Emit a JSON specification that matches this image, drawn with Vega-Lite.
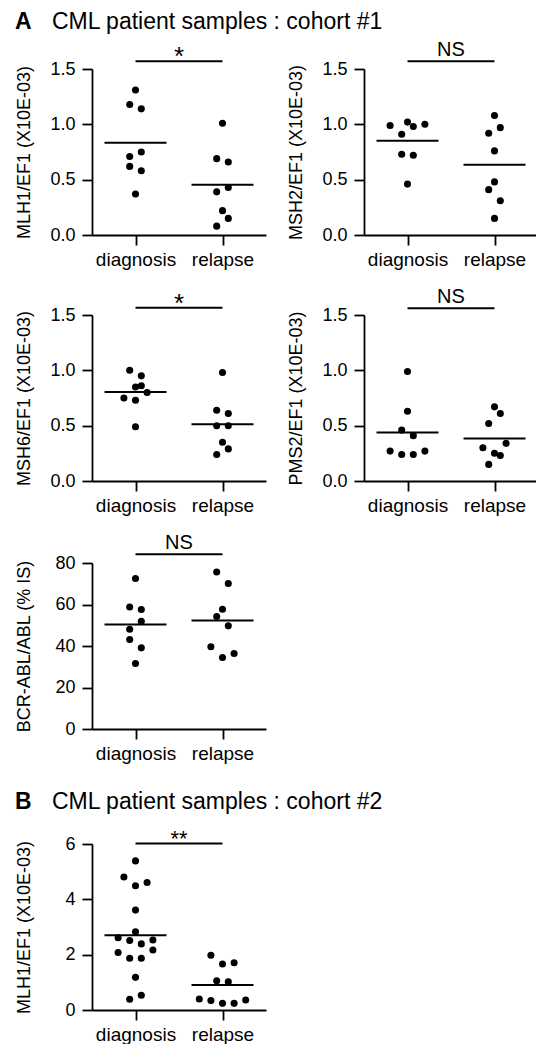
{
  "$schema": "https://vega.github.io/schema/vega-lite/v6.json",
  "padding": {"left": 15, "top": 11, "right": 0, "bottom": 0},
  "spacing": 28,
  "config": {
    "font": "Liberation Sans",
    "view": {"stroke": null},
    "axis": {"domainColor": "black", "domainWidth": 1.8, "tickColor": "black", "tickWidth": 1.8, "tickSize": 10, "labelColor": "black", "titleColor": "black", "labelFontSize": 18, "titleFontSize": 18, "titleFontWeight": "normal", "grid": false},
    "axisX": {"labelPadding": 5, "labelAngle": 0, "title": null, "labelFontSize": 19},
    "axisY": {"labelPadding": 7, "titlePadding": 15, "minExtent": 44, "maxExtent": 44},
    "title": {"anchor": "start", "fontSize": 23, "fontWeight": "bold", "color": "black", "offset": 6}
  },
  "datasets": {
    "mlh1": [
      {"group": "diagnosis", "jitter": 0, "value": 1.31},
      {"group": "diagnosis", "jitter": -1, "value": 1.18},
      {"group": "diagnosis", "jitter": 1, "value": 1.14},
      {"group": "diagnosis", "jitter": -1, "value": 0.71},
      {"group": "diagnosis", "jitter": 1, "value": 0.75},
      {"group": "diagnosis", "jitter": -1, "value": 0.62},
      {"group": "diagnosis", "jitter": 1, "value": 0.58},
      {"group": "diagnosis", "jitter": 0, "value": 0.37},
      {"group": "relapse", "jitter": 0, "value": 1.01},
      {"group": "relapse", "jitter": -1, "value": 0.69},
      {"group": "relapse", "jitter": 1, "value": 0.66},
      {"group": "relapse", "jitter": -1, "value": 0.39},
      {"group": "relapse", "jitter": 1, "value": 0.43},
      {"group": "relapse", "jitter": 0, "value": 0.22},
      {"group": "relapse", "jitter": 1, "value": 0.15},
      {"group": "relapse", "jitter": -1, "value": 0.08}
    ],
    "msh2": [
      {"group": "diagnosis", "jitter": -3, "value": 0.99},
      {"group": "diagnosis", "jitter": -1, "value": 0.91},
      {"group": "diagnosis", "jitter": 0, "value": 1.02},
      {"group": "diagnosis", "jitter": 1, "value": 0.98},
      {"group": "diagnosis", "jitter": 3, "value": 1.0},
      {"group": "diagnosis", "jitter": -1, "value": 0.73},
      {"group": "diagnosis", "jitter": 1, "value": 0.72},
      {"group": "diagnosis", "jitter": 0, "value": 0.46},
      {"group": "relapse", "jitter": 0, "value": 1.08},
      {"group": "relapse", "jitter": -1, "value": 0.92},
      {"group": "relapse", "jitter": 1, "value": 0.97},
      {"group": "relapse", "jitter": 0, "value": 0.76},
      {"group": "relapse", "jitter": 0, "value": 0.48},
      {"group": "relapse", "jitter": -1, "value": 0.41},
      {"group": "relapse", "jitter": 1, "value": 0.31},
      {"group": "relapse", "jitter": 0, "value": 0.15}
    ],
    "msh6": [
      {"group": "diagnosis", "jitter": -1, "value": 1.0},
      {"group": "diagnosis", "jitter": 1, "value": 0.95},
      {"group": "diagnosis", "jitter": 0, "value": 0.85},
      {"group": "diagnosis", "jitter": 1, "value": 0.86},
      {"group": "diagnosis", "jitter": -2, "value": 0.75},
      {"group": "diagnosis", "jitter": 0, "value": 0.73},
      {"group": "diagnosis", "jitter": 2, "value": 0.8},
      {"group": "diagnosis", "jitter": 0, "value": 0.49},
      {"group": "relapse", "jitter": 0, "value": 0.98},
      {"group": "relapse", "jitter": -1, "value": 0.64},
      {"group": "relapse", "jitter": 1, "value": 0.61},
      {"group": "relapse", "jitter": -1, "value": 0.5},
      {"group": "relapse", "jitter": 1, "value": 0.5},
      {"group": "relapse", "jitter": 0, "value": 0.35},
      {"group": "relapse", "jitter": 1, "value": 0.29},
      {"group": "relapse", "jitter": -1, "value": 0.24}
    ],
    "pms2": [
      {"group": "diagnosis", "jitter": 0, "value": 0.99},
      {"group": "diagnosis", "jitter": 0, "value": 0.63},
      {"group": "diagnosis", "jitter": -1, "value": 0.46},
      {"group": "diagnosis", "jitter": 1, "value": 0.41},
      {"group": "diagnosis", "jitter": -3, "value": 0.27},
      {"group": "diagnosis", "jitter": -1, "value": 0.24},
      {"group": "diagnosis", "jitter": 1, "value": 0.24},
      {"group": "diagnosis", "jitter": 3, "value": 0.27},
      {"group": "relapse", "jitter": 0, "value": 0.67},
      {"group": "relapse", "jitter": 1, "value": 0.61},
      {"group": "relapse", "jitter": -1, "value": 0.52},
      {"group": "relapse", "jitter": -2, "value": 0.3},
      {"group": "relapse", "jitter": 0, "value": 0.25},
      {"group": "relapse", "jitter": 1, "value": 0.23},
      {"group": "relapse", "jitter": 2, "value": 0.34},
      {"group": "relapse", "jitter": -1, "value": 0.15}
    ],
    "bcrabl": [
      {"group": "diagnosis", "jitter": 0, "value": 72.5},
      {"group": "diagnosis", "jitter": -1, "value": 58.8},
      {"group": "diagnosis", "jitter": 1, "value": 57.6},
      {"group": "diagnosis", "jitter": 1, "value": 51.9},
      {"group": "diagnosis", "jitter": -1, "value": 48.1},
      {"group": "diagnosis", "jitter": -1, "value": 43.1},
      {"group": "diagnosis", "jitter": 1, "value": 39.1},
      {"group": "diagnosis", "jitter": 0, "value": 31.6},
      {"group": "relapse", "jitter": -1, "value": 75.7},
      {"group": "relapse", "jitter": 1, "value": 70.1},
      {"group": "relapse", "jitter": 0, "value": 57.7},
      {"group": "relapse", "jitter": -1, "value": 54.2},
      {"group": "relapse", "jitter": 1, "value": 49.7},
      {"group": "relapse", "jitter": -2, "value": 39.6},
      {"group": "relapse", "jitter": 0, "value": 34.5},
      {"group": "relapse", "jitter": 2, "value": 36.4}
    ],
    "mlh1b": [
      {"group": "diagnosis", "jitter": 0, "value": 5.39},
      {"group": "diagnosis", "jitter": -2, "value": 4.81},
      {"group": "diagnosis", "jitter": 0, "value": 4.49},
      {"group": "diagnosis", "jitter": 2, "value": 4.61},
      {"group": "diagnosis", "jitter": 0, "value": 3.61},
      {"group": "diagnosis", "jitter": 0, "value": 2.83},
      {"group": "diagnosis", "jitter": -3, "value": 2.61},
      {"group": "diagnosis", "jitter": -1, "value": 2.51},
      {"group": "diagnosis", "jitter": 1, "value": 2.39},
      {"group": "diagnosis", "jitter": 3, "value": 2.53},
      {"group": "diagnosis", "jitter": -3, "value": 2.08},
      {"group": "diagnosis", "jitter": -1, "value": 1.87},
      {"group": "diagnosis", "jitter": 1, "value": 1.87},
      {"group": "diagnosis", "jitter": 3, "value": 2.17},
      {"group": "diagnosis", "jitter": 0, "value": 1.18},
      {"group": "diagnosis", "jitter": -1, "value": 0.39},
      {"group": "diagnosis", "jitter": 1, "value": 0.53},
      {"group": "relapse", "jitter": -2, "value": 1.98},
      {"group": "relapse", "jitter": 0, "value": 1.66},
      {"group": "relapse", "jitter": 2, "value": 1.71},
      {"group": "relapse", "jitter": -1, "value": 1.06},
      {"group": "relapse", "jitter": 1, "value": 1.02},
      {"group": "relapse", "jitter": -4, "value": 0.4},
      {"group": "relapse", "jitter": -2, "value": 0.34},
      {"group": "relapse", "jitter": 0, "value": 0.24},
      {"group": "relapse", "jitter": 2, "value": 0.24},
      {"group": "relapse", "jitter": 4, "value": 0.36}
    ]
  },
  "vconcat": [
    {
      "title": {"text": "A", "dy": 29},
      "spacing": 18,
      "vconcat": [
        {
          "title": {"text": "CML patient samples : cohort #1", "fontWeight": "normal", "dx": 37},
          "spacing": 21,
          "hconcat": [
            {
              "width": 174, "height": 166,
              "layer": [
                {"data": {"name": "mlh1"}, "mark": {"type": "circle", "size": 50, "color": "black", "opacity": 1},
                 "encoding": {
                   "x": {"field": "group", "type": "nominal", "scale": {"type": "point", "domain": ["diagnosis", "vs", "relapse"], "padding": 1}, "axis": {"values": ["diagnosis", "relapse"], "title": null}},
                   "xOffset": {"field": "jitter", "type": "quantitative", "scale": {"domain": [-4, 4], "range": [-23.2, 23.2]}},
                   "y": {"field": "value", "type": "quantitative", "scale": {"domain": [0, 1.5], "nice": false}, "axis": {"values": [0, 0.5, 1, 1.5], "format": ".1f", "title": "MLH1/EF1 (X10E-03)"}}
                 }},
                {"data": {"name": "mlh1"}, "mark": {"type": "tick", "size": 62, "thickness": 2, "color": "black"},
                 "encoding": {"x": {"field": "group", "type": "nominal"}, "y": {"aggregate": "mean", "field": "value", "type": "quantitative"}}},
                {"data": {"values": [{"from": "diagnosis", "to": "relapse", "pair": "vs", "y": 1.57, "label": "*"}]},
                 "mark": {"type": "rule", "strokeWidth": 2, "color": "black"},
                 "encoding": {"x": {"field": "from", "type": "nominal"}, "x2": {"field": "to"}, "y": {"field": "y", "type": "quantitative"}}},
                {"data": {"values": [{"from": "diagnosis", "to": "relapse", "pair": "vs", "y": 1.57, "label": "*"}]},
                 "mark": {"type": "text", "fontSize": 26, "baseline": "alphabetic", "dy": 4, "color": "black"},
                 "encoding": {"x": {"field": "pair", "type": "nominal"}, "y": {"field": "y", "type": "quantitative"}, "text": {"field": "label"}}}
              ]
            },
            {
              "width": 174, "height": 166,
              "layer": [
                {"data": {"name": "msh2"}, "mark": {"type": "circle", "size": 50, "color": "black", "opacity": 1},
                 "encoding": {
                   "x": {"field": "group", "type": "nominal", "scale": {"type": "point", "domain": ["diagnosis", "vs", "relapse"], "padding": 1}, "axis": {"values": ["diagnosis", "relapse"], "title": null}},
                   "xOffset": {"field": "jitter", "type": "quantitative", "scale": {"domain": [-4, 4], "range": [-23.2, 23.2]}},
                   "y": {"field": "value", "type": "quantitative", "scale": {"domain": [0, 1.5], "nice": false}, "axis": {"values": [0, 0.5, 1, 1.5], "format": ".1f", "title": "MSH2/EF1 (X10E-03)"}}
                 }},
                {"data": {"name": "msh2"}, "mark": {"type": "tick", "size": 62, "thickness": 2, "color": "black"},
                 "encoding": {"x": {"field": "group", "type": "nominal"}, "y": {"aggregate": "mean", "field": "value", "type": "quantitative"}}},
                {"data": {"values": [{"from": "diagnosis", "to": "relapse", "pair": "vs", "y": 1.57, "label": "NS"}]},
                 "mark": {"type": "rule", "strokeWidth": 2, "color": "black"},
                 "encoding": {"x": {"field": "from", "type": "nominal"}, "x2": {"field": "to"}, "y": {"field": "y", "type": "quantitative"}}},
                {"data": {"values": [{"from": "diagnosis", "to": "relapse", "pair": "vs", "y": 1.57, "label": "NS"}]},
                 "mark": {"type": "text", "fontSize": 20, "baseline": "alphabetic", "dy": -5, "color": "black"},
                 "encoding": {"x": {"field": "pair", "type": "nominal"}, "y": {"field": "y", "type": "quantitative"}, "text": {"field": "label"}}}
              ]
            }
          ]
        },
        {
          "spacing": 21,
          "hconcat": [
            {
              "width": 174, "height": 166,
              "layer": [
                {"data": {"name": "msh6"}, "mark": {"type": "circle", "size": 50, "color": "black", "opacity": 1},
                 "encoding": {
                   "x": {"field": "group", "type": "nominal", "scale": {"type": "point", "domain": ["diagnosis", "vs", "relapse"], "padding": 1}, "axis": {"values": ["diagnosis", "relapse"], "title": null}},
                   "xOffset": {"field": "jitter", "type": "quantitative", "scale": {"domain": [-4, 4], "range": [-23.2, 23.2]}},
                   "y": {"field": "value", "type": "quantitative", "scale": {"domain": [0, 1.5], "nice": false}, "axis": {"values": [0, 0.5, 1, 1.5], "format": ".1f", "title": "MSH6/EF1 (X10E-03)"}}
                 }},
                {"data": {"name": "msh6"}, "mark": {"type": "tick", "size": 62, "thickness": 2, "color": "black"},
                 "encoding": {"x": {"field": "group", "type": "nominal"}, "y": {"aggregate": "mean", "field": "value", "type": "quantitative"}}},
                {"data": {"values": [{"from": "diagnosis", "to": "relapse", "pair": "vs", "y": 1.566, "label": "*"}]},
                 "mark": {"type": "rule", "strokeWidth": 2, "color": "black"},
                 "encoding": {"x": {"field": "from", "type": "nominal"}, "x2": {"field": "to"}, "y": {"field": "y", "type": "quantitative"}}},
                {"data": {"values": [{"from": "diagnosis", "to": "relapse", "pair": "vs", "y": 1.566, "label": "*"}]},
                 "mark": {"type": "text", "fontSize": 26, "baseline": "alphabetic", "dy": 4, "color": "black"},
                 "encoding": {"x": {"field": "pair", "type": "nominal"}, "y": {"field": "y", "type": "quantitative"}, "text": {"field": "label"}}}
              ]
            },
            {
              "width": 174, "height": 166,
              "layer": [
                {"data": {"name": "pms2"}, "mark": {"type": "circle", "size": 50, "color": "black", "opacity": 1},
                 "encoding": {
                   "x": {"field": "group", "type": "nominal", "scale": {"type": "point", "domain": ["diagnosis", "vs", "relapse"], "padding": 1}, "axis": {"values": ["diagnosis", "relapse"], "title": null}},
                   "xOffset": {"field": "jitter", "type": "quantitative", "scale": {"domain": [-4, 4], "range": [-23.2, 23.2]}},
                   "y": {"field": "value", "type": "quantitative", "scale": {"domain": [0, 1.5], "nice": false}, "axis": {"values": [0, 0.5, 1, 1.5], "format": ".1f", "title": "PMS2/EF1 (X10E-03)"}}
                 }},
                {"data": {"name": "pms2"}, "mark": {"type": "tick", "size": 62, "thickness": 2, "color": "black"},
                 "encoding": {"x": {"field": "group", "type": "nominal"}, "y": {"aggregate": "mean", "field": "value", "type": "quantitative"}}},
                {"data": {"values": [{"from": "diagnosis", "to": "relapse", "pair": "vs", "y": 1.56, "label": "NS"}]},
                 "mark": {"type": "rule", "strokeWidth": 2, "color": "black"},
                 "encoding": {"x": {"field": "from", "type": "nominal"}, "x2": {"field": "to"}, "y": {"field": "y", "type": "quantitative"}}},
                {"data": {"values": [{"from": "diagnosis", "to": "relapse", "pair": "vs", "y": 1.56, "label": "NS"}]},
                 "mark": {"type": "text", "fontSize": 20, "baseline": "alphabetic", "dy": -5, "color": "black"},
                 "encoding": {"x": {"field": "pair", "type": "nominal"}, "y": {"field": "y", "type": "quantitative"}, "text": {"field": "label"}}}
              ]
            }
          ]
        },
        {
          "width": 174, "height": 166,
          "layer": [
            {"data": {"name": "bcrabl"}, "mark": {"type": "circle", "size": 50, "color": "black", "opacity": 1},
             "encoding": {
               "x": {"field": "group", "type": "nominal", "scale": {"type": "point", "domain": ["diagnosis", "vs", "relapse"], "padding": 1}, "axis": {"values": ["diagnosis", "relapse"], "title": null}},
               "xOffset": {"field": "jitter", "type": "quantitative", "scale": {"domain": [-4, 4], "range": [-23.2, 23.2]}},
               "y": {"field": "value", "type": "quantitative", "scale": {"domain": [0, 80], "nice": false}, "axis": {"values": [0, 20, 40, 60, 80], "format": "d", "title": "BCR-ABL/ABL (% IS)"}}
             }},
            {"data": {"name": "bcrabl"}, "mark": {"type": "tick", "size": 62, "thickness": 2, "color": "black"},
             "encoding": {"x": {"field": "group", "type": "nominal"}, "y": {"aggregate": "mean", "field": "value", "type": "quantitative"}}},
            {"data": {"values": [{"from": "diagnosis", "to": "relapse", "pair": "vs", "y": 84.2, "label": "NS"}]},
             "mark": {"type": "rule", "strokeWidth": 2, "color": "black"},
             "encoding": {"x": {"field": "from", "type": "nominal"}, "x2": {"field": "to"}, "y": {"field": "y", "type": "quantitative"}}},
            {"data": {"values": [{"from": "diagnosis", "to": "relapse", "pair": "vs", "y": 84.2, "label": "NS"}]},
             "mark": {"type": "text", "fontSize": 20, "baseline": "alphabetic", "dy": -5, "color": "black"},
             "encoding": {"x": {"field": "pair", "type": "nominal"}, "y": {"field": "y", "type": "quantitative"}, "text": {"field": "label"}}}
          ]
        }
      ]
    },
    {
      "title": {"text": "B", "dy": 29},
      "vconcat": [
        {
          "title": {"text": "CML patient samples : cohort #2", "fontWeight": "normal", "dx": 37, "offset": 14},
          "width": 174, "height": 166,
          "layer": [
            {"data": {"name": "mlh1b"}, "mark": {"type": "circle", "size": 50, "color": "black", "opacity": 1},
             "encoding": {
               "x": {"field": "group", "type": "nominal", "scale": {"type": "point", "domain": ["diagnosis", "vs", "relapse"], "padding": 1}, "axis": {"values": ["diagnosis", "relapse"], "title": null}},
               "xOffset": {"field": "jitter", "type": "quantitative", "scale": {"domain": [-4, 4], "range": [-23.2, 23.2]}},
               "y": {"field": "value", "type": "quantitative", "scale": {"domain": [0, 6], "nice": false}, "axis": {"values": [0, 2, 4, 6], "format": "d", "title": "MLH1/EF1 (X10E-03)"}}
             }},
            {"data": {"name": "mlh1b"}, "mark": {"type": "tick", "size": 62, "thickness": 2, "color": "black"},
             "encoding": {"x": {"field": "group", "type": "nominal"}, "y": {"aggregate": "mean", "field": "value", "type": "quantitative"}}},
            {"data": {"values": [{"from": "diagnosis", "to": "relapse", "pair": "vs", "y": 6.02, "label": "**"}]},
             "mark": {"type": "rule", "strokeWidth": 2, "color": "black"},
             "encoding": {"x": {"field": "from", "type": "nominal"}, "x2": {"field": "to"}, "y": {"field": "y", "type": "quantitative"}}},
            {"data": {"values": [{"from": "diagnosis", "to": "relapse", "pair": "vs", "y": 6.02, "label": "**"}]},
             "mark": {"type": "text", "fontSize": 22, "baseline": "alphabetic", "dy": 3, "color": "black"},
             "encoding": {"x": {"field": "pair", "type": "nominal"}, "y": {"field": "y", "type": "quantitative"}, "text": {"field": "label"}}}
          ]
        }
      ]
    }
  ]
}
